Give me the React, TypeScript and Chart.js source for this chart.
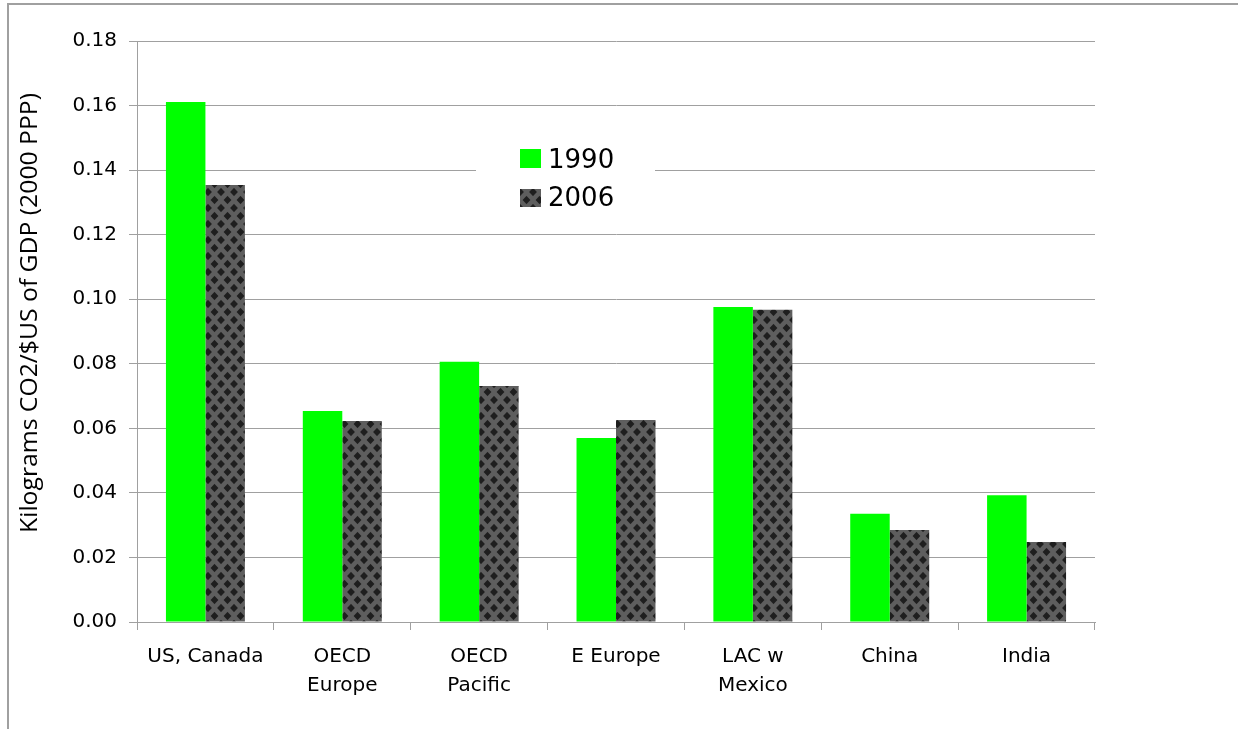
import React, { useEffect, useRef } from "react";
import { Chart, registerables } from "chart.js";

Chart.register(...registerables);

const categories: (string | string[])[] = [
  "US, Canada",
  ["OECD", "Europe"],
  ["OECD", "Pacific"],
  "E Europe",
  ["LAC w", "Mexico"],
  "China",
  "India",
];
const values1990 = [0.1611, 0.0654, 0.0806, 0.057, 0.0976, 0.0335, 0.0393];
const values2006 = [0.1354, 0.0623, 0.0731, 0.0626, 0.0967, 0.0285, 0.0248];
const seriesLabels = ["1990", "2006"];
const yTitle = "Kilograms CO2/$US of GDP (2000 PPP)";

function makePattern(): CanvasPattern | string {
  const S = 4;
  const w = 13;
  const h = 16;
  const big = document.createElement("canvas");
  big.width = w * S;
  big.height = h * S;
  const b = big.getContext("2d");
  if (!b) return "#555";
  b.fillStyle = "#5e5e5e";
  b.fillRect(0, 0, w * S, h * S);
  b.fillStyle = "#1e1e1e";
  const centers = [
    [0, 0], [w, 0], [0, h], [w, h], [w / 2, h / 2],
  ];
  const rx = 3.9;
  const ry = 4.1;
  for (const [cx, cy] of centers) {
    b.beginPath();
    b.moveTo(cx * S, (cy - ry) * S);
    b.lineTo((cx + rx) * S, cy * S);
    b.lineTo(cx * S, (cy + ry) * S);
    b.lineTo((cx - rx) * S, cy * S);
    b.closePath();
    b.fill();
  }
  const c = document.createElement("canvas");
  c.width = w;
  c.height = h;
  const ctx = c.getContext("2d");
  if (!ctx) return "#555";
  ctx.imageSmoothingEnabled = true;
  ctx.imageSmoothingQuality = "high";
  ctx.drawImage(big, 0, 0, w, h);
  const p = ctx.createPattern(c, "repeat");
  return p || "#555";
}

export default function App() {
  const ref = useRef<HTMLCanvasElement | null>(null);

  useEffect(() => {
    document.body.style.overflow = "hidden";
    const canvas = ref.current;
    if (!canvas) return;
    const pattern = makePattern();

    const overlay = {
      id: "overlay",
      afterDraw(chart: any) {
        const ctx = chart.ctx;
        const area = chart.chartArea;
        ctx.save();
        // y-axis title
        ctx.translate(30, 313);
        ctx.rotate(-Math.PI / 2);
        ctx.font = "23px 'Open Sans'";
        ctx.fillStyle = "#000";
        ctx.textAlign = "center";
        ctx.textBaseline = "middle";
        const tw = ctx.measureText(yTitle).width;
        const sx = 440 / tw;
        ctx.scale(sx, 1);
        ctx.fillText(yTitle, 0, 0);
        ctx.restore();

        // legend
        ctx.save();
        const lx = area.left + 339;
        const ly = area.top + 87;
        ctx.fillStyle = "#fff";
        ctx.fillRect(lx, ly, 179, 94);
        ctx.fillStyle = "#00ff00";
        ctx.fillRect(area.left + 383, area.top + 108, 21, 19);
        ctx.fillStyle = pattern as any;
        ctx.fillRect(area.left + 383, area.top + 148, 21, 18);
        ctx.fillStyle = "#000";
        ctx.font = "26px 'DejaVu Sans'";
        ctx.textAlign = "left";
        ctx.textBaseline = "alphabetic";
        ctx.fillText(seriesLabels[0], area.left + 411, area.top + 127);
        ctx.fillText(seriesLabels[1], area.left + 411, area.top + 165);
        ctx.restore();
      },
    };

    const chart = new Chart(canvas, {
      type: "bar",
      data: {
        labels: categories,
        datasets: [
          {
            label: seriesLabels[0],
            data: values1990,
            backgroundColor: "#00ff00",
            borderWidth: 0,
            barPercentage: 1,
            categoryPercentage: 0.577,
          },
          {
            label: seriesLabels[1],
            data: values2006,
            backgroundColor: pattern as any,
            borderWidth: 0,
            barPercentage: 1,
            categoryPercentage: 0.577,
          },
        ],
      },
      options: {
        responsive: false,
        devicePixelRatio: 1,
        animation: false,
        layout: { padding: { top: 41, right: 143, bottom: 0, left: 0 } },
        plugins: {
          legend: { display: false },
          tooltip: { enabled: false },
          title: { display: false },
        },
        scales: {
          x: {
            afterFit: (s: any) => {
              s.height = 107;
            },
            grid: {
              display: true,
              drawOnChartArea: false,
              drawTicks: true,
              tickLength: 8,
              color: "#a0a0a0",
              offset: true,
            },
            border: { display: true, color: "#a0a0a0", width: 1 },
            ticks: {
              color: "#000",
              font: { family: "'DejaVu Sans'", size: 20, lineHeight: 1.45 },
              padding: 12,
              maxRotation: 0,
              autoSkip: false,
            },
          },
          y: {
            min: 0,
            max: 0.18,
            afterFit: (s: any) => {
              s.width = 137;
            },
            grid: {
              display: true,
              drawOnChartArea: true,
              drawTicks: true,
              tickLength: 8,
              color: "#a0a0a0",
            },
            border: { display: true, color: "#a0a0a0", width: 1 },
            ticks: {
              stepSize: 0.02,
              color: "#000",
              padding: 12,
              font: { family: "'DejaVu Sans'", size: 20 },
              callback: (v: any) => Number(v).toFixed(2),
            },
          },
        },
      },
      plugins: [overlay],
    });
    return () => chart.destroy();
  }, []);

  return (
    <div>
      <div
        style={{
          position: "absolute",
          left: 7,
          top: 3,
          width: 1231,
          height: 726,
          borderLeft: "2px solid #a0a0a0",
          borderTop: "2px solid #a0a0a0",
          boxSizing: "border-box",
        }}
      />
      <canvas
        ref={ref}
        width={1238}
        height={729}
        style={{ position: "absolute", left: 0, top: 0, width: 1238, height: 729 }}
      />
    </div>
  );
}
